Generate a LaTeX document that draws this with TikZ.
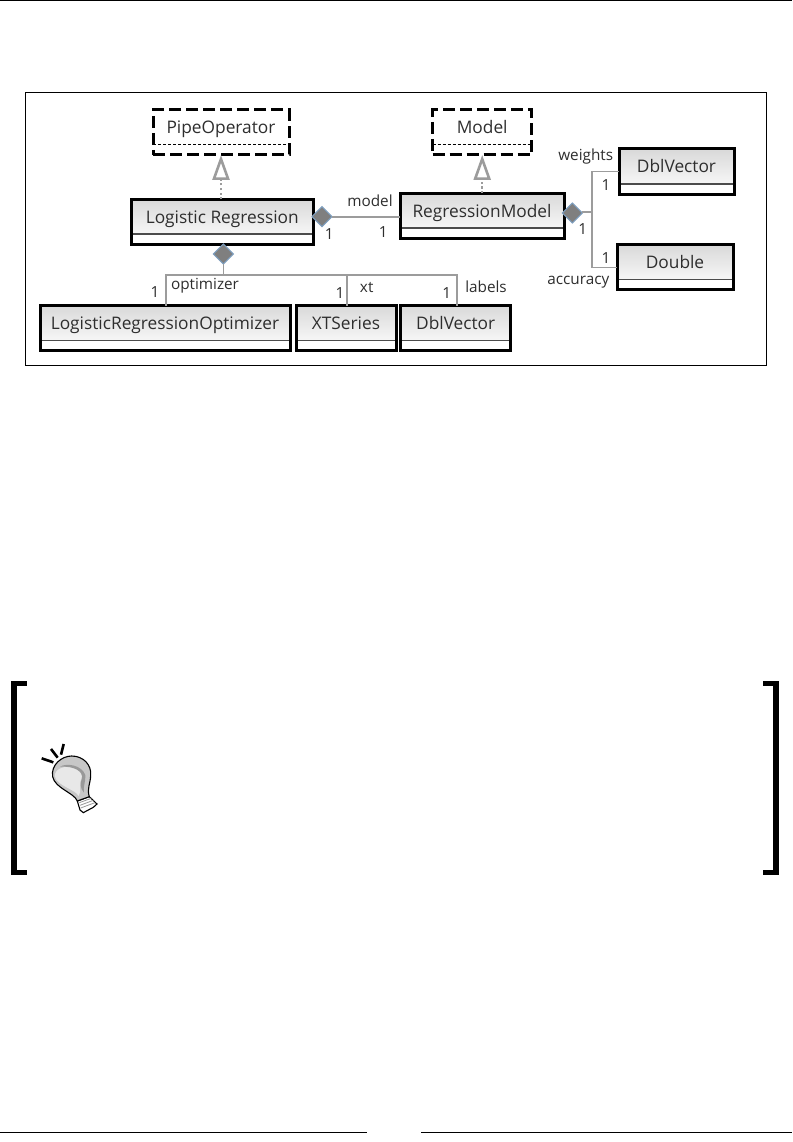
\documentclass[tikz,border=0pt]{standalone}
\usepackage{fontspec}
\setmainfont{Open Sans}
\usetikzlibrary{shapes.geometric,arrows.meta,calc}
\definecolor{txt}{HTML}{2E2E2E}
\definecolor{conn}{HTML}{9C9C9C}
\definecolor{compfill}{HTML}{7F7F7F}
\definecolor{compedge}{HTML}{7C9DBE}
\tikzset{
  umlbox/.style={draw=black,line width=3pt,outer sep=0pt,inner sep=0pt,minimum height=45pt,
    text=txt,text height=11pt,text depth=8pt,font=\fontsize{17.3}{20}\selectfont,
    path picture={
      \shade[top color=black!15,bottom color=white] (path picture bounding box.north west) rectangle ([yshift=10pt]path picture bounding box.south east);
      \draw[line width=1.6pt,black!70] ([yshift=10pt]path picture bounding box.south west) -- ([yshift=10pt]path picture bounding box.south east);
    }},
  ifacebox/.style={draw=black,line width=3pt,dash pattern=on 12pt off 5pt,outer sep=0pt,inner sep=0pt,minimum height=45pt,
    text=txt,text height=11pt,text depth=8pt,font=\fontsize{17.3}{20}\selectfont,
    path picture={
      \draw[line width=1pt,dash pattern=on 3pt off 2pt,black] ([yshift=10pt]path picture bounding box.south west) -- ([yshift=10pt]path picture bounding box.south east);
    }},
  comp/.style={diamond,aspect=1,fill=compfill,draw=compedge,line width=1pt,inner sep=0pt,minimum size=20pt,outer sep=0pt},
  link/.style={draw=conn,line width=1.6pt},
  real/.style={draw=conn,line width=2.2pt,dash pattern=on 2pt off 2.5pt,
    -{Triangle[open,length=25pt,width=17pt,line width=2.6pt,sep=0pt]}},
  lab/.style={text=txt,inner sep=0pt,font=\fontsize{15.3}{18}\selectfont},
  bar/.style={fill=black,draw=none},
  rule/.style={draw=black,line width=1pt}
}
\begin{document}
\begin{tikzpicture}[x=1pt,y=-1pt]
\useasboundingbox (0,0) rectangle (792,1142);
\fill[white] (0,0) rectangle (792,1142);
% page rules
\coordinate (ta) at (0,0.5); \coordinate (tb) at (792,0.5);
\draw[rule] (ta) -- (tb);
\coordinate (ba) at (0,1132); \coordinate (bb) at (367,1132);
\coordinate (bc) at (421,1132); \coordinate (bd) at (792,1132);
\draw[rule] (ba) -- (bb);
\draw[rule] (bc) -- (bd);
% frame
\draw[black,line width=1pt] (25,92.7) rectangle (766.7,365);
% boxes
\node[ifacebox,minimum width=136pt] (pipe) at (221,132.5) {PipeOperator};
\node[ifacebox,minimum width=99pt] (model) at (482.2,132.5) {Model};
\node[umlbox,minimum width=182pt] (lr) at (222.3,221.5) {Logistic Regression};
\node[umlbox,minimum width=164pt] (rm) at (482,215.5) {RegressionModel};
\node[umlbox,minimum width=250pt] (opt) at (165,328) {LogisticRegressionOptimizer};
\node[umlbox,minimum width=100pt] (xts) at (346,328) {XTSeries};
\node[umlbox,minimum width=110pt] (dv1) at (455.7,328) {DblVector};
\node[umlbox,minimum width=115pt] (dv2) at (676.5,171.5) {DblVector};
\node[umlbox,minimum width=116pt] (dbl) at (675,267) {Double};
% diamonds
\node[comp] (d1) at (322,216.7) {};
\node[comp] (d2) at (223.3,254) {};
\node[comp] (d3) at (572.3,213) {};
% realisation
\draw[real] (pipe.south |- lr.north) -- (pipe.south);
\draw[real] (model.south |- rm.north) -- (model.south);
% composition links
\draw[link] (d1.east) -- (d1.east -| rm.west);
\coordinate (j) at (d2.south |- 0,275);
\coordinate (jo) at (166,275);
\coordinate (jx) at (347,275);
\coordinate (jd) at (456.7,275);
\draw[link] (d2.south) -- (j);
\draw[link] (jo |- opt.north) -- (jo) -- (jd) -- (jd |- dv1.north);
\draw[link] (jx) -- (jx |- xts.north);
\coordinate (k) at (591.7,211.7);
\coordinate (kt) at (591.7,171.7);
\coordinate (kb) at (591.7,267.3);
\draw[link] (d3.east |- k) -- (k);
\draw[link] (kt -| dv2.west) -- (kt) -- (kb) -- (kb -| dbl.west);
% labels
\node[lab] (l1) at (370,200.5) {model};
\node[lab] (l2) at (329.3,234.5) {1};
\node[lab] (l3) at (383.3,232) {1};
\node[lab] (l4) at (205,286) {optimizer};
\node[lab] (l5) at (155,292) {1};
\node[lab] (l6) at (340,293.5) {1};
\node[lab] (l7) at (366.7,287.5) {xt};
\node[lab] (l8) at (446.7,293.5) {1};
\node[lab] (l9) at (486,286.7) {labels};
\node[lab] (l10) at (585.7,157) {weights};
\node[lab] (l11) at (606,185) {1};
\node[lab] (l12) at (582.7,229) {1};
\node[lab] (l13) at (606,257.7) {1};
\node[lab] (l14) at (578.3,282) {accuracy};
% brackets
\fill[bar] (11,681) rectangle (27,686);
\fill[bar] (11,681) rectangle (17,875);
\fill[bar] (11,870) rectangle (27,875);
\fill[bar] (763,681) rectangle (779,686);
\fill[bar] (773,681) rectangle (779,875);
\fill[bar] (763,870) rectangle (779,875);
% bulb
\begin{scope}[x=0.3333pt,y=-0.3333pt,shift={(0pt,-670pt)}]
\draw[line width=2.6pt] (125,265) -- (160,277);
\draw[line width=2.6pt] (153,237) -- (173,263);
\draw[line width=2.6pt] (191,222) -- (183,254);
\draw[fill=white,line width=1.1pt] (232,393) -- (268,380) -- (291,402) -- (280,412) -- (250,428) -- (240,420) -- cycle;
\draw[black!40,line width=0.8pt] (238,398) -- (274,385);
\draw[black!40,line width=0.8pt] (240,406) -- (280,391);
\draw[black!40,line width=0.8pt] (242,414) -- (285,398);
\draw[fill=black!22,line width=1.1pt] (232,393) .. controls (222,368) and (165,355) .. (158,320) .. controls (152,285) and (185,258) .. (215,258) .. controls (250,258) and (275,285) .. (272,315) .. controls (272,340) and (260,355) .. (268,380) -- cycle;
\fill[black!9] (236,378) .. controls (226,358) and (172,348) .. (165,320) .. controls (162,298) and (190,288) .. (215,290) .. controls (240,294) and (252,312) .. (242,332) .. controls (236,347) and (246,362) .. (236,378) -- cycle;
\fill[black!40] (180,290) .. controls (200,278) and (245,285) .. (256,315) .. controls (258,335) and (248,350) .. (252,368) .. controls (240,355) and (240,340) .. (246,325) .. controls (250,305) and (225,288) .. (180,290) -- cycle;
\end{scope}
\end{tikzpicture}
\end{document}
